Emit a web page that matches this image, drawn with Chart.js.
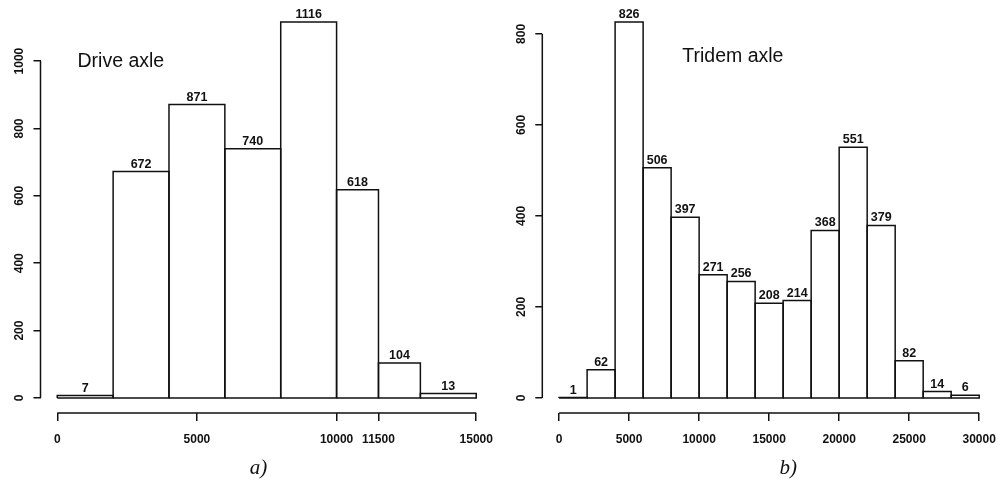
<!DOCTYPE html>
<html>
<head>
<meta charset="utf-8">
<script src="https://cdn.jsdelivr.net/npm/chart.js@4.4.1/dist/chart.umd.min.js"></script>
<style>
body { margin: 0; background: #fff; width: 998px; height: 484px; overflow: hidden; position: relative; }
canvas { position: absolute; top: 0; }
#driveChart { left: 0; }
#tridemChart { left: 499px; }
</style>
</head>
<body>
<canvas id="driveChart" width="499" height="484"></canvas>
<canvas id="tridemChart" width="499" height="484"></canvas>
<script>
// a) drive axle histogram (unequal bins at the top end)
const driveEdges = [0, 2000, 4000, 6000, 8000, 10000, 11500, 13000, 15000]
const driveCounts = [7, 672, 871, 740, 1116, 618, 104, 13]
const driveXTicks = [0, 5000, 10000, 11500, 15000]
const driveYTicks = [0, 200, 400, 600, 800, 1000]

// b) tridem axle histogram
const tridemEdges = [0, 2000, 4000, 6000, 8000, 10000, 12000, 14000, 16000, 18000, 20000, 22000, 24000, 26000, 28000, 30000]
const tridemCounts = [1, 62, 826, 506, 397, 271, 256, 208, 214, 368, 551, 379, 82, 14, 6]
const tridemXTicks = [0, 5000, 10000, 15000, 20000, 25000, 30000]
const tridemYTicks = [0, 200, 400, 600, 800]

const ink = '#111'
const sans = '"Liberation Sans", Arial, sans-serif'

function makeHist(id, edges, counts, xTicks, yTicks, o) {
    // every bar is a closed rectangle drawn as a line through the scales
    let datasets = counts.map((c, i) => ({
        data: [
            { x: edges[i], y: 0 }, { x: edges[i], y: c },
            { x: edges[i + 1], y: c }, { x: edges[i + 1], y: 0 },
            { x: edges[i], y: 0 }
        ],
        showLine: true,
        borderColor: ink,
        borderWidth: 1.5,
        pointRadius: 0,
        fill: false,
        tension: 0
    }))

    // R style plot region: 4% extra on each side
    let xSpan = edges[edges.length - 1] - edges[0]
    let yMax = Math.max(...counts)

    const rStyle = {
        id: 'rStyle',
        afterDraw(chart) {
            const ctx = chart.ctx
            const xs = chart.scales.x, ys = chart.scales.y
            const area = chart.chartArea
            ctx.save()
            ctx.strokeStyle = ink
            ctx.lineWidth = 1.5
            ctx.beginPath()
            ctx.moveTo(xs.getPixelForValue(xTicks[0]), area.bottom)
            ctx.lineTo(xs.getPixelForValue(xTicks[xTicks.length - 1]), area.bottom)
            ctx.moveTo(area.left, ys.getPixelForValue(yTicks[0]))
            ctx.lineTo(area.left, ys.getPixelForValue(yTicks[yTicks.length - 1]))
            ctx.stroke()

            ctx.fillStyle = ink
            ctx.textAlign = 'center'
            ctx.textBaseline = 'middle'
            ctx.font = 'bold 12px ' + sans
            for (let v of yTicks) {
                ctx.save()
                ctx.translate(area.left - 21, ys.getPixelForValue(v))
                ctx.rotate(-Math.PI / 2)
                ctx.fillText(String(v), 0, 0)
                ctx.restore()
            }

            // counts above the bars
            ctx.font = 'bold 12.5px ' + sans
            ctx.textBaseline = 'alphabetic'
            counts.forEach((c, i) => {
                let cx = xs.getPixelForValue((edges[i] + edges[i + 1]) / 2)
                ctx.fillText(String(c), cx, ys.getPixelForValue(c) - 4)
            })

            ctx.textAlign = 'left'
            ctx.textBaseline = 'middle'
            ctx.font = '19.5px ' + sans
            ctx.fillText(o.title, area.left + o.titleDx, o.titleY)

            ctx.textAlign = 'center'
            ctx.font = 'italic 21px "Liberation Serif", "Times New Roman", serif'
            ctx.fillText(o.caption, area.left + o.captionDx, 468)
            ctx.restore()
        }
    }

    return new Chart(document.getElementById(id), {
        type: 'scatter',
        data: { datasets: datasets },
        options: {
            responsive: false,
            animation: false,
            layout: { padding: { top: 7, right: o.padRight, bottom: 29, left: 0 } },
            plugins: { legend: { display: false }, tooltip: { enabled: false } },
            scales: {
                x: {
                    type: 'linear',
                    min: edges[0] - 0.04 * xSpan,
                    max: edges[edges.length - 1] + 0.04 * xSpan,
                    afterBuildTicks: s => { s.ticks = xTicks.map(v => ({ value: v })) },
                    afterFit: s => { s.height = 42; s.paddingLeft = 0; s.paddingRight = 0 },
                    border: { display: false },
                    grid: { drawOnChartArea: false, drawTicks: true, tickLength: 8, color: ink, lineWidth: 1.5 },
                    ticks: {
                        color: ink, font: { size: 12, family: sans, weight: 'bold' }, padding: 11,
                        maxRotation: 0, autoSkip: false, callback: v => String(v)
                    }
                },
                y: {
                    type: 'linear',
                    min: -0.04 * yMax,
                    max: 1.04 * yMax,
                    afterBuildTicks: s => { s.ticks = yTicks.map(v => ({ value: v })) },
                    afterFit: s => { s.width = o.axisW; s.paddingTop = 0; s.paddingBottom = 0 },
                    border: { display: false },
                    grid: { drawOnChartArea: false, drawTicks: true, tickLength: 7, color: ink, lineWidth: 1.5 },
                    ticks: { display: false }
                }
            }
        },
        plugins: [rStyle]
    })
}

makeHist('driveChart', driveEdges, driveCounts, driveXTicks, driveYTicks,
    { axisW: 40.5, padRight: 6, title: 'Drive axle', titleDx: 37, titleY: 62, caption: 'a)', captionDx: 218 })
makeHist('tridemChart', tridemEdges, tridemCounts, tridemXTicks, tridemYTicks,
    { axisW: 43.3, padRight: 2, title: 'Tridem axle', titleDx: 140, titleY: 57, caption: 'b)', captionDx: 246 })
</script>
</body>
</html>
